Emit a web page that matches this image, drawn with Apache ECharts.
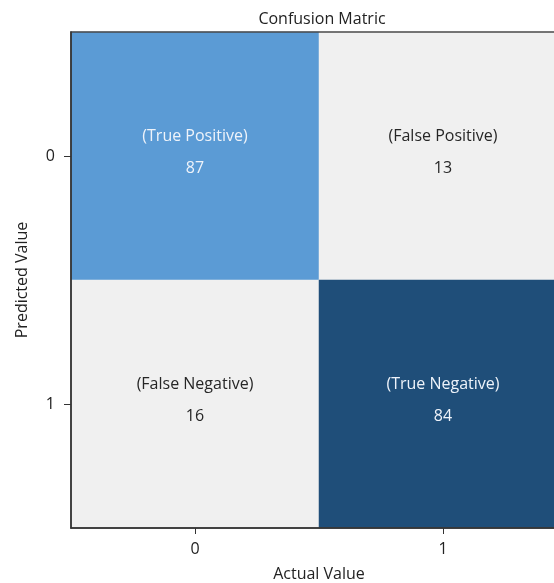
<!DOCTYPE html>
<html>
<head>
<meta charset="utf-8">
<script src="https://cdn.jsdelivr.net/npm/echarts@6/dist/echarts.min.js"></script>
<style>
  html, body { margin: 0; padding: 0; background: #fff; }
  #chart { width: 554px; height: 583px; }
</style>
</head>
<body>
<div id="chart"></div>
<script>
const actualLabels = ['0', '1'];
const predictedLabels = ['0', '1'];
// [actual index, predicted index, count]
const cells = [
  [0, 0, 87],
  [1, 0, 13],
  [0, 1, 16],
  [1, 1, 84]
];
const cellNames = ['(True Positive)', '(False Positive)', '(False Negative)', '(True Negative)'];
const cellColors = ['#5b9bd5', '#f0f0f0', '#f0f0f0', '#1f4e79'];
const textColors = ['#eef3fa', '#262626', '#262626', '#eef3fa'];

const font = 'Open Sans, Liberation Sans, sans-serif';

const chart = echarts.init(document.getElementById('chart'));
chart.setOption({
  animation: false,
  title: {
    text: 'Confusion Matric',
    left: 317,
    top: 6,
    textAlign: 'center',
    textStyle: { fontFamily: font, fontSize: 16, fontWeight: 'normal', color: '#222' }
  },
  grid: {
    left: 71,
    top: 32,
    width: 496,
    height: 496,
    z: 5,
    outerBoundsMode: 'none',
    containLabel: false,
    show: true,
    borderColor: '#4a4a4a',
    borderWidth: 1.5,
    backgroundColor: 'transparent'
  },
  xAxis: {
    type: 'category',
    data: actualLabels,
    z: 6,
    name: 'Actual Value',
    nameLocation: 'middle',
    nameGap: 38,
    nameTextStyle: { fontFamily: font, fontSize: 16, color: '#222' },
    axisLine: { lineStyle: { color: '#333', width: 1.5 } },
    axisTick: { show: true, alignWithLabel: true, length: 6, lineStyle: { color: '#333' } },
    axisLabel: { fontFamily: font, fontSize: 16, color: '#222', margin: 13 },
    splitArea: { show: false }
  },
  yAxis: {
    type: 'category',
    data: predictedLabels,
    inverse: true,
    z: 6,
    name: 'Predicted Value',
    nameLocation: 'middle',
    nameGap: 41,
    nameTextStyle: { fontFamily: font, fontSize: 16, color: '#222' },
    axisLine: { lineStyle: { color: '#333', width: 1.5 } },
    axisTick: { show: true, alignWithLabel: true, length: 7, lineStyle: { color: '#333' } },
    axisLabel: { fontFamily: font, fontSize: 16, color: '#222', margin: 16 },
    splitArea: { show: false }
  },
  series: [{
    type: 'heatmap',
    data: cells.map((c, i) => ({
      value: c,
      name: cellNames[i],
      itemStyle: { color: cellColors[i] },
      label: { color: textColors[i] }
    })),
    label: {
      show: true,
      fontFamily: font,
      fontSize: 16,
      lineHeight: 32,
      offset: [0, -4],
      formatter: p => p.name + '\n' + p.value[2]
    },
    itemStyle: { borderWidth: 0 },
    emphasis: { disabled: true }
  }]
});
</script>
</body>
</html>
